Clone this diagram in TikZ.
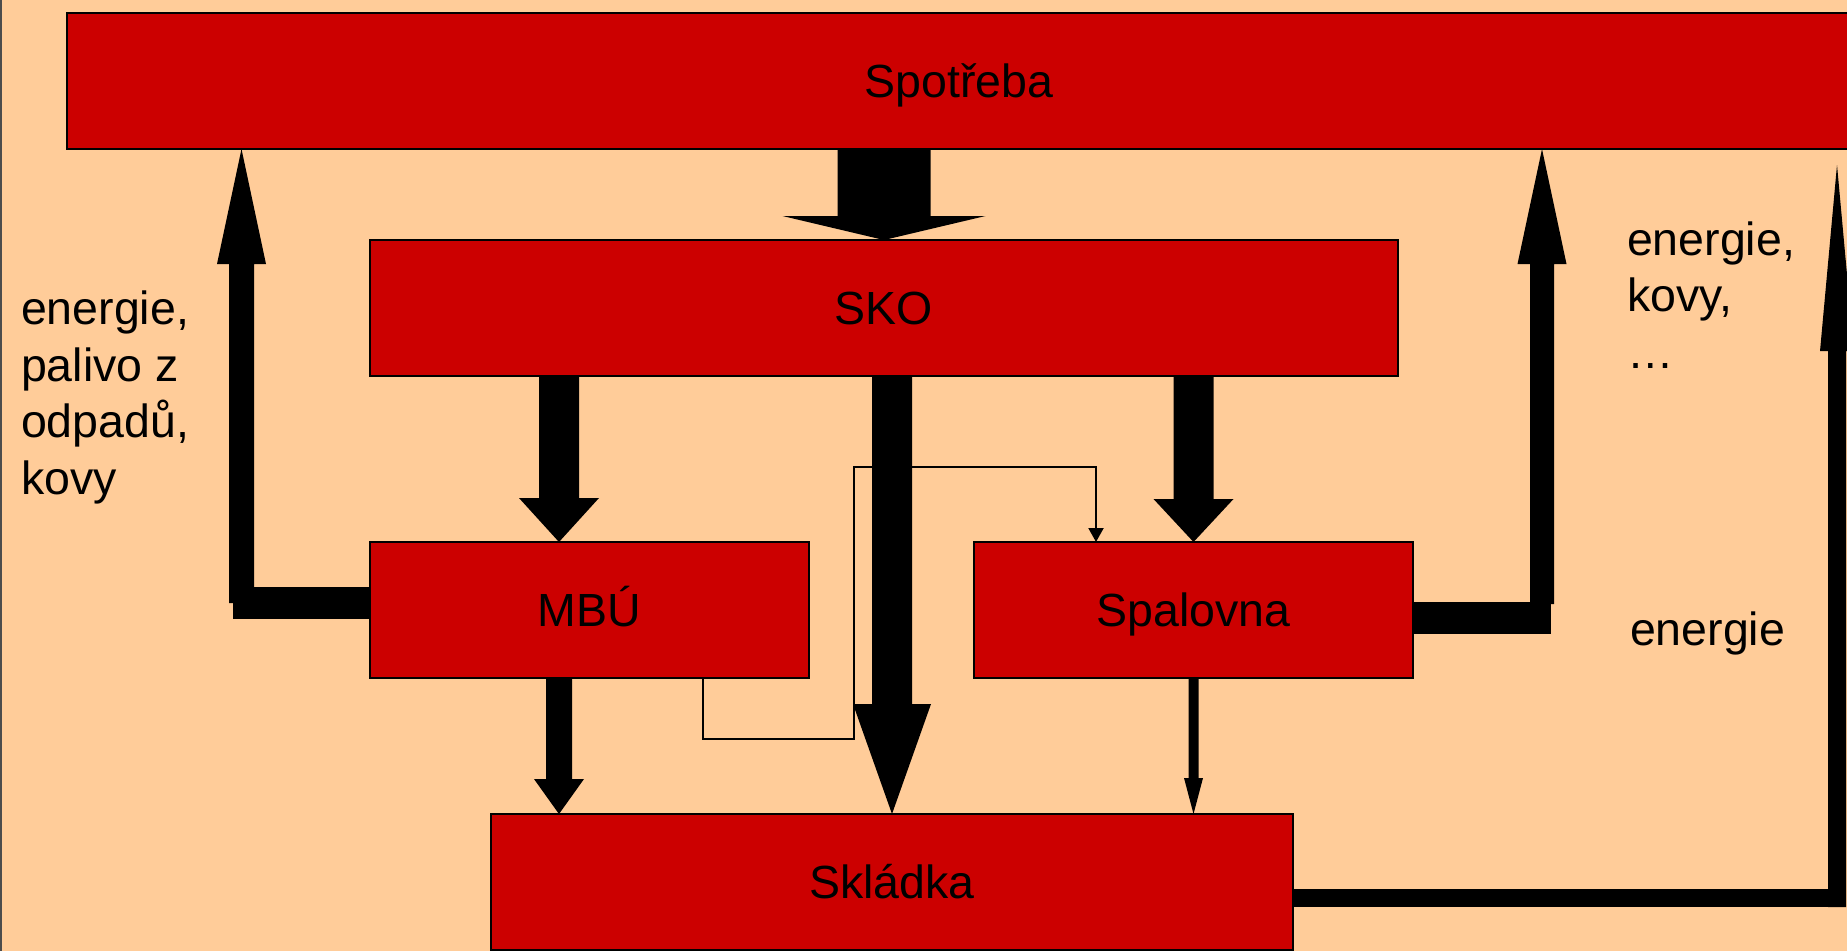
\documentclass[tikz,border=0pt]{standalone}
\usepackage{fontspec}
\setmainfont{Liberation Sans}
\usetikzlibrary{calc,arrows.meta}
\definecolor{paper}{HTML}{FFCC99}
\definecolor{boxred}{HTML}{CC0000}
% vertical block arrow: start, tip, half shaft width, half head width, head length (signed)
\newcommand{\blockarrow}[5]{%
  \fill[black] ($(#1)+({-(#3)},0)$) -- ($(#2)+({-(#3)},{-1*(#5)})$)
    -- ($(#2)+({-(#4)},{-1*(#5)})$) -- (#2) -- ($(#2)+(#4,{-1*(#5)})$)
    -- ($(#2)+(#3,{-1*(#5)})$) -- ($(#1)+(#3,0)$) -- cycle;}
\begin{document}
\begin{tikzpicture}[x=1pt,y=-1pt,
  bigfont/.style={font=\fontsize{46.5}{56.5}\selectfont},
  box/.style={draw=black, line width=2pt, fill=boxred, inner sep=0pt, outer sep=0pt,
    minimum height=136pt, text height=33.5pt, text depth=0pt, bigfont},
  lbl/.style={inner sep=0pt, outer sep=0pt, align=left, bigfont},
  feed/.style={line width=2pt, -{Triangle[width=15pt,length=14pt]}}]
  \useasboundingbox (0,0) rectangle (1847,951);
  \clip (0,0) rectangle (1847,951);
  \fill[paper] (0,0) rectangle (1847,951);
  \draw[black!70, line width=1.5pt] (0.75,0) -- (0.75,951);

  % process boxes
  \node[box, minimum width=1784pt] (spot) at (959,81) {Spotřeba};
  \node[box, minimum width=1028pt] (sko) at (884,308) {SKO};
  \node[box, minimum width=439pt] (mbu) at (589.5,610) {MBÚ};
  \node[box, minimum width=439pt] (spal) at (1193.5,610) {Spalovna};
  \node[box, minimum width=802pt] (skl) at (892,882) {Skládka};

  % helper points
  \coordinate (x1) at ($(mbu.north)+(-30.5,0)$);
  \coordinate (m1) at (703,739);
  \coordinate (m2) at (854,467);
  \coordinate (m3) at (1096,467);

  % thin feed from MBU to the incinerator
  \draw[feed] (mbu.south -| m1) -- (m1) -- (m1 -| m2) -- (m2) -- (m3) -- (spal.north -| m3);

  % Spotreba -> SKO
  \coordinate (a1) at (spot.south -| sko.north);
  \blockarrow{a1}{sko.north}{46.5}{101.5}{24}
  % SKO -> MBU
  \coordinate (a2) at (sko.south -| x1);
  \blockarrow{a2}{x1}{20}{40}{44}
  % SKO -> Skladka
  \coordinate (a3) at (sko.south -| skl.north);
  \blockarrow{a3}{skl.north}{20}{39}{110}
  % SKO -> Spalovna
  \coordinate (a4) at (sko.south -| spal.north);
  \blockarrow{a4}{spal.north}{20}{40}{43}
  % MBU -> Skladka
  \coordinate (a5s) at (mbu.south -| x1);
  \coordinate (a5) at (skl.north -| x1);
  \blockarrow{a5s}{a5}{13}{25}{35}
  % Spalovna -> Skladka
  \coordinate (a6) at (skl.north -| spal.south);
  \blockarrow{spal.south}{a6}{5}{9.5}{36}

  % MBU -> Spotreba
  \fill ($(mbu.west)+(0,-23)$) rectangle ($(mbu.west)+(-137,9)$);
  \coordinate (c7) at (241.5,603);
  \coordinate (t7) at (spot.south -| c7);
  \blockarrow{c7}{t7}{12.5}{24.5}{-115}
  % Spalovna -> Spotreba
  \fill ($(spal.east)+(0,-8)$) rectangle ($(spal.east)+(138,24)$);
  \coordinate (c8) at (1542,604);
  \coordinate (t8) at (spot.south -| c8);
  \blockarrow{c8}{t8}{12}{24.5}{-115}
  % Skladka -> back up the right side
  \coordinate (c9) at (1837,907);
  \coordinate (t9) at (1837,165);
  \fill ($(skl.east)+(0,7)$) rectangle (1846,907);
  \blockarrow{c9}{t9}{9}{17}{-186}

  % flow labels (anchored at the baseline of their last line)
  \node[lbl, anchor=base west] (lt) at (21,494) {energie,\\palivo z\\odpadů,\\kovy};
  \node[lbl, anchor=base west] (rt) at (1627,368) {energie,\\kovy,\\…};
  \node[lbl, anchor=base west] (re) at (1630,645) {energie};
\end{tikzpicture}
\end{document}
